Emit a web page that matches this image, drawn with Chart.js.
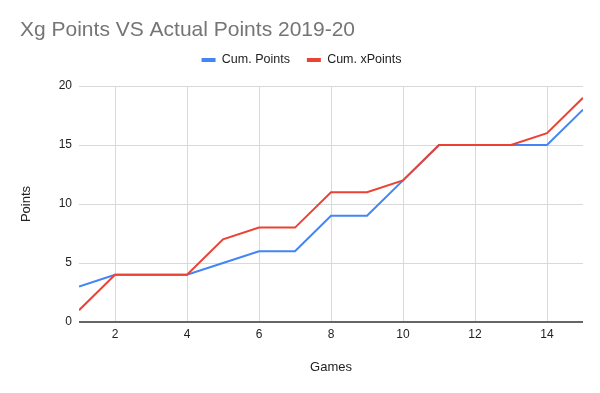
<!DOCTYPE html>
<html>
<head>
<meta charset="utf-8">
<script src="https://cdn.jsdelivr.net/npm/chart.js@4"></script>
<style>
  html, body { margin: 0; padding: 0; background: #fff; }
  #wrap { width: 600px; height: 393px; }
</style>
</head>
<body>
<div id="wrap"><canvas id="lineChart"></canvas></div>
<script>
const games = [1, 2, 3, 4, 5, 6, 7, 8, 9, 10, 11, 12, 13, 14, 15];
const cumPoints = [3, 4, 4, 4, 5, 6, 6, 9, 9, 12, 15, 15, 15, 15, 18];
const cumXPoints = [1, 4, 4, 4, 7, 8, 8, 11, 11, 12, 15, 15, 15, 16, 19];
const xTicks = [2, 4, 6, 8, 10, 12, 14];
const yTicks = [0, 5, 10, 15, 20];

const font = 'Arial, "Liberation Sans", sans-serif';

// push the plot down a bit below the legend
const legendGap = {
  id: 'legendGap',
  beforeInit(chart) {
    const fit = chart.legend.fit;
    chart.legend.fit = function () {
      fit.bind(chart.legend)();
      this.height += 9.75;
    };
  }
};

const ctx = document.getElementById('lineChart').getContext('2d');
const chart = new Chart(ctx, {
  type: 'line',
  data: {
    datasets: [{
      label: 'Cum. Points',
      data: games.map((g, i) => ({ x: g, y: cumPoints[i] })),
      borderColor: '#4285F4',
      backgroundColor: '#4285F4',
      borderWidth: 2,
      pointRadius: 0,
      order: 1
    }, {
      label: 'Cum. xPoints',
      data: games.map((g, i) => ({ x: g, y: cumXPoints[i] })),
      borderColor: '#EA4335',
      backgroundColor: '#EA4335',
      borderWidth: 2,
      pointRadius: 0,
      order: 0
    }]
  },
  options: {
    responsive: true,
    maintainAspectRatio: false,
    animation: false,
    layout: { padding: { left: 20, right: 17, top: 0, bottom: 0 } },
    plugins: {
      title: {
        display: true,
        text: 'Xg Points VS Actual Points 2019-20',
        align: 'start',
        color: '#757575',
        font: { family: font, size: 21, weight: 'normal', lineHeight: 0.6 },
        padding: { top: 23.7, bottom: 0.45 }
      },
      legend: {
        position: 'top',
        labels: {
          color: '#222',
          font: { family: font, size: 12.5 },
          boxWidth: 14,
          boxHeight: 4,
          padding: 17,
          sort: (a, b) => a.datasetIndex - b.datasetIndex,
          filter: item => { item.lineWidth = 0; return true; }
        }
      },
      tooltip: { enabled: false }
    },
    scales: {
      x: {
        type: 'linear',
        min: 1,
        max: 15,
        afterBuildTicks: scale => { scale.ticks = xTicks.map(v => ({ value: v })); },
        afterFit: scale => { scale.height = 71; },
        ticks: {
          autoSkip: false,
          maxRotation: 0,
          padding: 5,
          color: '#222',
          font: { family: font, size: 12 }
        },
        grid: { color: '#d9d9d9', lineWidth: 1, drawTicks: false },
        border: { display: false },
        title: {
          display: true,
          text: 'Games',
          color: '#222',
          font: { family: font, size: 13, lineHeight: 1.2 },
          padding: { top: 0, bottom: 18 }
        }
      },
      y: {
        min: 0,
        max: 20,
        afterBuildTicks: scale => { scale.ticks = yTicks.map(v => ({ value: v })); },
        afterFit: scale => { scale.width = 59; },
        ticks: {
          padding: 7,
          color: '#222',
          font: { family: font, size: 12 }
        },
        grid: {
          drawTicks: false,
          color: c => c.tick.value === 0 ? '#666' : '#d9d9d9',
          lineWidth: c => c.tick.value === 0 ? 2 : 1
        },
        border: { display: false },
        title: {
          display: true,
          text: 'Points',
          color: '#222',
          font: { family: font, size: 13, lineHeight: 1 },
          padding: { top: 0, bottom: 0 }
        }
      }
    }
  },
  plugins: [legendGap]
});
</script>
</body>
</html>
